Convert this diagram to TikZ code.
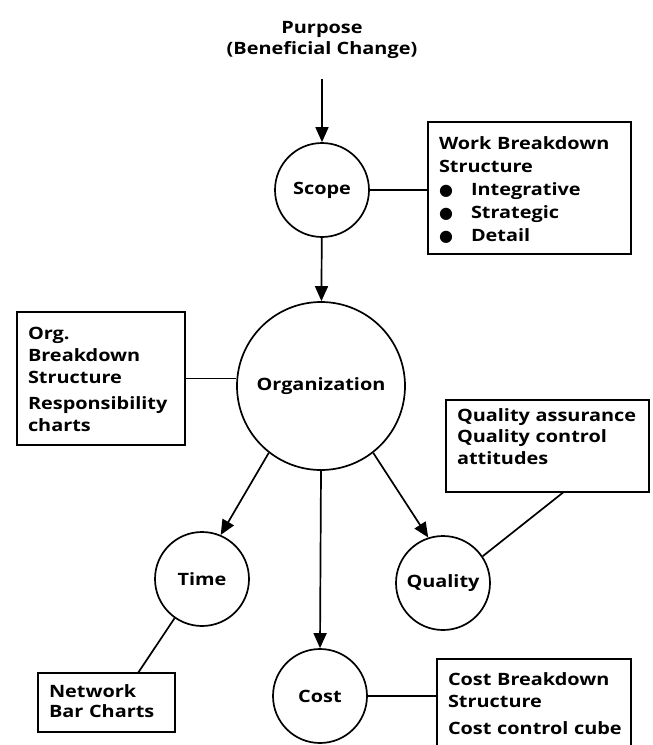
\documentclass[tikz,border=0pt]{standalone}
\usepackage{fontspec}
\setmainfont{Open Sans}[FakeStretch=1.17]
\newfontfamily\symfont{DejaVu Sans}
\usetikzlibrary{arrows.meta,calc}
\newcommand{\bul}{\makebox[32pt][l]{\symfont\fontsize{16}{16}\selectfont ●}}

\begin{document}
\begin{tikzpicture}[x=1pt, y=-1pt,
    every node/.style = {font=\fontsize{17}{23}\selectfont\bfseries},
    stage/.style = {draw, circle, line width=1.7pt, minimum size=94pt, inner sep=0pt},
    infobox/.style = {draw, line width=1.7pt, anchor=north west, align=left,
                      inner xsep=11pt, inner ysep=0pt, outer sep=0pt},
    flow/.style = {line width=1.7pt, -{Triangle[length=15pt, width=13pt]}},
    link/.style = {line width=1.7pt}]
  \useasboundingbox (0,0) rectangle (653,745);

  % centre line
  \node[align=center, anchor=north, inner sep=0pt, text height=33pt, text depth=25pt,
        font=\fontsize{17}{21}\selectfont\bfseries] (purpose) at (322,21)
    {Purpose\\(Beneficial Change)};
  \node[stage] (scope) at (322,190) {Scope};
  \node[stage, minimum size=168pt] (org) at (321,386) {Organization};
  \node[stage] (time) at (202,579) {Time};
  \node[stage] (quality) at (443,583) {Quality};
  \node[stage] (cost) at (320,696) {Cost};

  % side boxes
  \node[infobox, text width=181pt, text height=27pt, text depth=105pt] (wbs) at (428,122)
    {\mbox{Work Breakdown}\\Structure\\\bul Integrative\\\bul Strategic\\\bul Detail};
  \node[infobox, text width=146pt, text height=27pt, text depth=106pt,
        font=\fontsize{17}{22}\selectfont\bfseries] (obox) at (17,312)
    {Org.\\Breakdown\\Structure\\[4pt]Responsibility\\charts};
  \node[infobox, text width=181pt, text height=21pt, text depth=71pt,
        font=\fontsize{17}{21.5}\selectfont\bfseries] (qbox) at (446,400)
    {\mbox{Quality assurance}\\\mbox{Quality control}\\attitudes};
  \node[infobox, text width=115pt, text height=24pt, text depth=35pt,
        font=\fontsize{17}{20}\selectfont\bfseries] (net) at (38,673)
    {Network\\\mbox{Bar Charts}};
  \node[infobox, text width=172pt, text height=26pt, text depth=85pt,
        font=\fontsize{17}{22}\selectfont\bfseries] (cbox) at (437,659)
    {\mbox{Cost Breakdown}\\Structure\\[5pt]\mbox{Cost control cube}};

  % arrows
  \draw[flow] (purpose) -- (scope);
  \draw[flow] (scope) -- (org);
  \draw[flow] (org.-128) -- (time.67);
  \draw[flow] (org.south) -- (cost.north);
  \draw[flow] (org.-52) -- (quality.108);

  % links to boxes
  \draw[link] (scope.east) -- (scope.east -| wbs.west);
  \draw[link] (obox.east) -- (obox.east -| org.west);
  \draw[link] (time.-125) -- ($(net.north west)!.73!(net.north east)$);
  \draw[link] (quality.34) -- ($(qbox.south west)!.58!(qbox.south east)$);
  \draw[link] (cost.east) -- (cost.east -| cbox.west);
\end{tikzpicture}
\end{document}
